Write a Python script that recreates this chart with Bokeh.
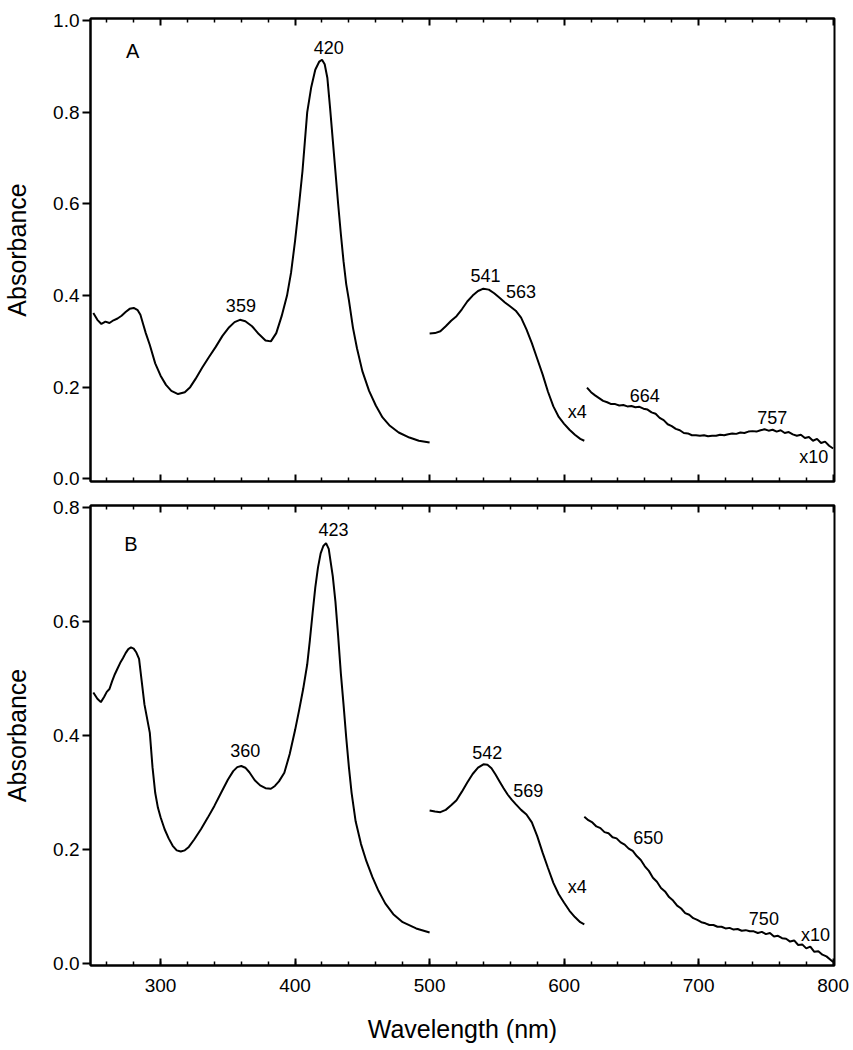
from bokeh.plotting import figure
from bokeh.models import (Range1d, LinearAxis, SingleIntervalTicker, FixedTicker,
                          PrintfTickFormatter, ColumnDataSource)
from bokeh.layouts import column
from bokeh.core.properties import value
from bokeh.embed import file_html
from bokeh.resources import INLINE

FONT = "Liberation Sans"

# ---------------- tick positions ----------------
x_major_ticks = [300, 400, 500, 600, 700, 800]
x_minor_ticks = [260, 280, 320, 340, 360, 380, 420, 440, 460, 480, 520, 540, 560, 580,
                 620, 640, 660, 680, 720, 740, 760, 780]

# ---------------- Panel A data ----------------
a1_wl = [250, 253, 256, 259, 262, 265, 268, 271, 274, 277, 280, 283, 285, 287, 289, 292, 296, 300, 304, 308,
         313, 318, 322, 326, 331, 336, 341, 346, 351, 355, 359, 363, 368, 373, 378, 382, 386, 390, 394, 397,
         400, 403, 405.5, 409, 412, 415, 418, 420, 422, 424, 426, 428, 430, 432, 434, 436, 438, 440, 443, 446,
         450, 455, 460, 465, 470, 477, 485, 492, 500]
a1_abs = [0.362, 0.347, 0.338, 0.343, 0.340, 0.346, 0.350, 0.356, 0.364, 0.371, 0.373, 0.368, 0.358, 0.338, 0.318, 0.292, 0.252, 0.225, 0.205, 0.192,
          0.185, 0.189, 0.200, 0.218, 0.243, 0.266, 0.288, 0.312, 0.331, 0.342, 0.347, 0.344, 0.333, 0.316, 0.302, 0.300, 0.318, 0.355, 0.400, 0.450,
          0.520, 0.600, 0.672, 0.800, 0.855, 0.893, 0.911, 0.915, 0.905, 0.875, 0.810, 0.740, 0.670, 0.600, 0.535, 0.475, 0.425, 0.390, 0.330, 0.285,
          0.235, 0.192, 0.160, 0.134, 0.117, 0.101, 0.090, 0.083, 0.079]

a2_wl = [500, 504, 508, 512, 516, 520, 524, 528, 532, 536, 540, 544, 548, 552, 556, 560, 564, 568, 572, 576,
         580, 584, 588, 592, 596, 600, 604, 608, 612, 615]
a2_abs = [0.317, 0.318, 0.322, 0.333, 0.345, 0.355, 0.370, 0.387, 0.400, 0.410, 0.415, 0.413, 0.405, 0.395, 0.385, 0.376, 0.367, 0.352, 0.326, 0.296,
          0.262, 0.228, 0.190, 0.158, 0.135, 0.120, 0.107, 0.096, 0.087, 0.083]

a3_wl = [617, 620, 623, 626, 629, 632, 635, 638, 641, 644, 647, 650, 653, 656, 659, 662, 665, 668, 671, 674,
         677, 680, 683, 686, 689, 692, 695, 698, 701, 704, 707, 710, 713, 716, 719, 722, 725, 728, 731, 734,
         737, 740, 743, 746, 749, 752, 755, 758, 761, 764, 767, 770, 773, 776, 779, 782, 785, 788, 791, 794,
         797, 800]
a3_abs = [0.199, 0.189, 0.182, 0.176, 0.170, 0.167, 0.163, 0.163, 0.160, 0.161, 0.158, 0.159, 0.156, 0.157, 0.153, 0.151, 0.145, 0.142, 0.133, 0.128,
          0.119, 0.115, 0.109, 0.106, 0.100, 0.099, 0.095, 0.095, 0.094, 0.095, 0.093, 0.094, 0.094, 0.096, 0.095, 0.097, 0.099, 0.098, 0.101, 0.100,
          0.103, 0.104, 0.103, 0.106, 0.108, 0.105, 0.107, 0.103, 0.106, 0.100, 0.102, 0.097, 0.094, 0.096, 0.089, 0.091, 0.083, 0.087, 0.078, 0.081,
          0.072, 0.066]

a_lab_text = ["A", "359", "420", "541", "563", "x4", "664", "757", "x10"]
a_lab_x = [279.2, 359.7, 425.0, 541.5, 568.0, 609.8, 660.0, 754.7, 785.6]
a_lab_y = [0.934, 0.378, 0.942, 0.443, 0.408, 0.145, 0.181, 0.134, 0.047]

# ---------------- Panel B data ----------------
b1_wl = [250, 253, 255.6, 258, 260, 262, 264, 266, 268, 270, 272, 274, 276, 278, 280, 282, 284, 286, 288, 290,
         292, 294, 296, 298, 300, 303, 306, 309, 312, 315, 318, 321, 325, 330, 335, 340, 345, 350, 354, 357,
         360, 363, 366, 370, 374, 378, 382, 385, 388, 392, 396, 400, 403, 406, 409, 411, 413, 415, 417, 419,
         421, 423, 425, 428, 430, 432, 434, 436, 438, 440, 442, 445, 449, 453, 457.5, 462, 467, 473, 480, 490,
         500]
b1_abs = [0.476, 0.465, 0.459, 0.468, 0.477, 0.482, 0.496, 0.508, 0.518, 0.528, 0.536, 0.545, 0.552, 0.555, 0.553, 0.546, 0.535, 0.495, 0.455, 0.430,
          0.405, 0.345, 0.300, 0.274, 0.257, 0.236, 0.220, 0.207, 0.199, 0.197, 0.199, 0.205, 0.218, 0.236, 0.256, 0.277, 0.300, 0.323, 0.338, 0.345,
          0.347, 0.344, 0.336, 0.322, 0.313, 0.308, 0.307, 0.312, 0.320, 0.335, 0.368, 0.410, 0.445, 0.482, 0.525, 0.568, 0.615, 0.660, 0.695, 0.720,
          0.733, 0.738, 0.728, 0.680, 0.635, 0.575, 0.510, 0.455, 0.397, 0.345, 0.300, 0.250, 0.210, 0.180, 0.152, 0.128, 0.106, 0.087, 0.073, 0.062,
          0.055]

b2_wl = [500, 504, 508, 512, 516, 520, 524, 528, 532, 536, 540, 543, 546, 549, 552, 555, 558, 561, 564, 568,
         572, 576, 580, 584, 588, 592, 596, 600, 604, 608, 612, 615]
b2_abs = [0.269, 0.267, 0.266, 0.270, 0.278, 0.287, 0.302, 0.318, 0.333, 0.344, 0.350, 0.349, 0.343, 0.332, 0.320, 0.308, 0.297, 0.288, 0.280, 0.270,
          0.262, 0.248, 0.224, 0.195, 0.168, 0.142, 0.122, 0.107, 0.093, 0.082, 0.073, 0.069]

b3_wl = [615, 618, 621, 624, 627, 630, 633, 636, 639, 642, 645, 648, 651, 654, 657, 660, 663, 666, 669, 672,
         675, 678, 681, 684, 687, 690, 693, 696, 699, 702, 705, 708, 711, 714, 717, 720, 723, 726, 729, 732,
         735, 738, 741, 744, 747, 750, 753, 756, 759, 762, 765, 768, 771, 774, 777, 780, 783, 786, 789, 792,
         795, 798, 800]
b3_abs = [0.258, 0.252, 0.248, 0.241, 0.238, 0.231, 0.229, 0.222, 0.220, 0.213, 0.209, 0.202, 0.198, 0.189, 0.182, 0.171, 0.163, 0.151, 0.144, 0.133,
          0.127, 0.117, 0.111, 0.102, 0.097, 0.089, 0.086, 0.080, 0.077, 0.073, 0.071, 0.068, 0.068, 0.065, 0.065, 0.062, 0.063, 0.060, 0.061, 0.058,
          0.059, 0.057, 0.057, 0.054, 0.056, 0.052, 0.054, 0.048, 0.049, 0.045, 0.044, 0.039, 0.041, 0.033, 0.034, 0.027, 0.030, 0.021, 0.022, 0.016,
          0.013, 0.007, 0.003]

b_lab_text = ["B", "360", "423", "542", "569", "x4", "650", "750", "x10"]
b_lab_x = [278.0, 363.0, 428.5, 542.9, 573.4, 609.8, 662.6, 748.5, 786.9]
b_lab_y = [0.737, 0.374, 0.762, 0.371, 0.304, 0.134, 0.221, 0.079, 0.050]

X_RANGE = (247.9, 801.0)


def tick_only_axes(p, side, with_line=True):
    """Unlabelled tick axes: short ticks every 20 nm, longer ones every 100 nm, pointing inward."""
    minor_ax = LinearAxis(ticker=FixedTicker(ticks=[], minor_ticks=x_minor_ticks),
                          major_tick_in=0, major_tick_out=0, minor_tick_in=4, minor_tick_out=0,
                          minor_tick_line_width=1.5, minor_tick_line_color="black",
                          axis_line_width=2, axis_line_color="black" if with_line else None,
                          major_label_standoff=0)
    major_ax = LinearAxis(ticker=FixedTicker(ticks=[], minor_ticks=x_major_ticks),
                          major_tick_in=0, major_tick_out=0, minor_tick_in=7, minor_tick_out=0,
                          minor_tick_line_width=2, minor_tick_line_color="black",
                          axis_line_color=None, major_label_standoff=0)
    p.add_layout(minor_ax, side)
    p.add_layout(major_ax, side)


def make_panel(y_range, frame_h, top_border, bottom_border, labelled_x, segments, labels):
    p = figure(x_range=Range1d(*X_RANGE), y_range=Range1d(*y_range),
               frame_width=744, frame_height=frame_h,
               min_border_left=88, min_border_right=15,
               min_border_top=top_border, min_border_bottom=bottom_border,
               x_axis_location="below" if labelled_x else None,
               output_backend="svg", toolbar_location=None)
    p.background_fill_color = "white"
    p.border_fill_color = "white"
    p.outline_line_color = "black"
    p.outline_line_width = 2
    p.xgrid.visible = False
    p.ygrid.visible = False

    # y axis
    ya = p.yaxis[0]
    ya.ticker = SingleIntervalTicker(interval=0.2, num_minor_ticks=0)
    ya.formatter = PrintfTickFormatter(format="%.1f")
    ya.major_tick_out = 8
    ya.major_tick_in = 0
    ya.minor_tick_out = 0
    ya.minor_tick_in = 0
    ya.major_tick_line_width = 2
    ya.axis_line_width = 2
    ya.axis_line_color = "black"
    ya.major_tick_line_color = "black"
    ya.major_label_text_font = FONT
    ya.major_label_text_font_size = "19px"
    ya.major_label_text_color = "black"
    ya.major_label_standoff = 3
    ya.axis_label = "Absorbance"
    ya.axis_label_text_font = FONT
    ya.axis_label_text_font_size = "25px"
    ya.axis_label_text_font_style = "normal"
    ya.axis_label_text_color = "black"
    ya.axis_label_standoff = 19

    if labelled_x:
        xa = p.xaxis[0]
        xa.ticker = SingleIntervalTicker(interval=100, num_minor_ticks=5)
        xa.major_tick_in = 7
        xa.major_tick_out = 0
        xa.minor_tick_in = 4
        xa.minor_tick_out = 0
        xa.major_tick_line_width = 2
        xa.minor_tick_line_width = 1.5
        xa.axis_line_width = 2
        xa.axis_line_color = "black"
        xa.major_tick_line_color = "black"
        xa.minor_tick_line_color = "black"
        xa.major_label_text_font = FONT
        xa.major_label_text_color = "black"
        xa.major_label_text_font_size = "19px"
        xa.major_label_standoff = 13
        xa.axis_label = "Wavelength (nm)"
        xa.axis_label_text_font = FONT
        xa.axis_label_text_font_size = "25px"
        xa.axis_label_text_font_style = "normal"
        xa.axis_label_text_color = "black"
        xa.axis_label_standoff = 20
    else:
        tick_only_axes(p, "below")

    tick_only_axes(p, "above")

    for wl, ab in segments:
        p.line(wl, ab, line_color="black", line_width=2)

    txt, lx, ly = labels
    src = ColumnDataSource(dict(x=lx[1:], y=ly[1:], t=txt[1:]))
    p.text(x="x", y="y", text="t", source=src, text_align="center", text_baseline="middle",
           text_font=value(FONT), text_font_size="18px", text_color="black")
    # panel letter
    src2 = ColumnDataSource(dict(x=lx[:1], y=ly[:1], t=txt[:1]))
    p.text(x="x", y="y", text="t", source=src2, text_align="center", text_baseline="middle",
           text_font=value(FONT), text_font_size="20px", text_color="black")
    return p


p1 = make_panel((-0.006, 1.005), 463, 18, 12, False,
                [(a1_wl, a1_abs), (a2_wl, a2_abs), (a3_wl, a3_abs)],
                (a_lab_text, a_lab_x, a_lab_y))
p2 = make_panel((-0.003, 0.804), 460, 12, 82, True,
                [(b1_wl, b1_abs), (b2_wl, b2_abs), (b3_wl, b3_abs)],
                (b_lab_text, b_lab_x, b_lab_y))

layout = column(p1, p2, spacing=0)
open("out.html", "w").write(file_html(layout, INLINE))
